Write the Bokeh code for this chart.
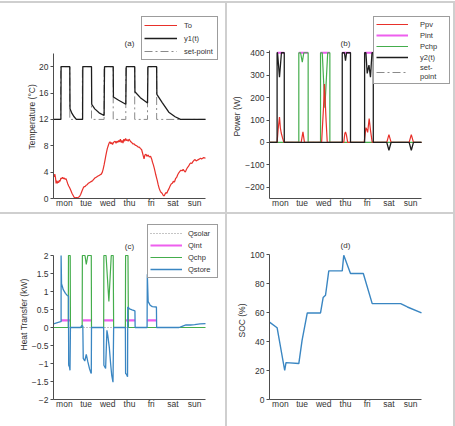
import numpy as np
from bokeh.plotting import figure
from bokeh.models import (FixedTicker, CustomJSTickFormatter, Legend, LegendItem, Div,
                          Label, Title)
from bokeh.layouts import row, column
from bokeh.embed import file_html
from bokeh.resources import INLINE

NAN = float("nan")
DAYS = ["mon", "tue", "wed", "thu", "fri", "sat", "sun"]

# ---- (a) temperatures ------------------------------------------------------
to_day = [0.00, 0.03, 0.06, 0.09, 0.12, 0.15, 0.18, 0.21, 0.24, 0.27, 0.30, 0.34, 0.38,
          0.42, 0.46, 0.50, 0.54, 0.58, 0.62, 0.66, 0.70, 0.75, 0.80, 0.85, 0.90, 0.95,
          1.00, 1.05, 1.10, 1.15, 1.20, 1.25, 1.29, 1.33, 1.37, 1.41, 1.45, 1.50, 1.55,
          1.60, 1.65, 1.70, 1.75, 1.80, 1.85, 1.90, 1.95, 2.00, 2.05, 2.10, 2.15, 2.20,
          2.25, 2.29, 2.33, 2.37, 2.41, 2.44, 2.48, 2.52, 2.56, 2.60, 2.64, 2.68, 2.72,
          2.76, 2.80, 2.84, 2.88, 2.92, 2.96, 3.00, 3.04, 3.08, 3.12, 3.16, 3.20, 3.24,
          3.28, 3.32, 3.36, 3.40, 3.44, 3.48, 3.52, 3.56, 3.60, 3.65, 3.70, 3.76, 3.83,
          3.90, 3.95, 4.00, 4.06, 4.10, 4.14, 4.17, 4.21, 4.26, 4.30, 4.36, 4.41, 4.47,
          4.52, 4.56, 4.60, 4.64, 4.67, 4.71, 4.75, 4.78, 4.82, 4.87, 4.92, 4.96, 5.00,
          5.05, 5.10, 5.14, 5.18, 5.22, 5.27, 5.32, 5.37, 5.42, 5.47, 5.52, 5.57, 5.62,
          5.67, 5.72, 5.77, 5.82, 5.87, 5.92, 5.97, 6.02, 6.07, 6.12, 6.17, 6.22, 6.27,
          6.32, 6.37, 6.42, 6.47, 6.52, 6.57, 6.62, 6.67, 6.72, 6.77, 6.82, 6.87, 6.92,
          7.00]
to_val = [3.5, 3.3, 3.7, 3.2, 2.3, 2.7, 2.3, 2.6, 2.4, 2.8, 2.6, 3.1, 3.0,
          3.2, 3.0, 3.1, 2.9, 3.0, 2.6, 2.2, 1.9, 1.6, 1.2, 0.8, 0.5, 0.2,
          0.1, 0.15, 0.1, 0.2, 0.3, 0.6, 0.95, 1.3, 1.6, 1.8, 1.8, 2.0, 2.1,
          2.3, 2.4, 2.5, 2.6, 2.7, 2.9, 3.1, 3.2, 3.3, 3.4, 3.5, 3.6, 3.7,
          4.0, 4.5, 5.1, 5.8, 6.5, 7.0, 7.6, 8.0, 8.4, 8.6, 8.3, 8.5, 8.2,
          8.5, 8.6, 8.7, 8.4, 8.7, 8.5, 8.8, 8.6, 9.0, 8.5, 8.8, 8.4, 9.0,
          8.7, 9.1, 8.8, 8.9, 8.7, 9.0, 8.8, 8.6, 8.5, 8.3, 8.3, 8.1, 8.0,
          7.8, 7.8, 7.6, 7.4, 6.9, 6.4, 6.0, 6.6, 6.7, 6.4, 6.6, 6.3, 6.4,
          6.0, 5.5, 5.1, 4.6, 4.2, 3.6, 3.1, 2.7, 2.1, 1.5, 1.1, 0.9, 0.8,
          0.5, 0.4, 0.7, 0.9, 0.8, 1.2, 1.5, 1.9, 2.2, 2.3, 2.6, 2.5, 3.0,
          3.2, 3.6, 3.9, 4.1, 4.3, 4.2, 4.4, 4.2, 4.0, 4.4, 4.7, 4.9, 5.2,
          5.4, 5.3, 5.6, 5.8, 5.9, 5.7, 5.8, 5.9, 6.0, 6.1, 6.0, 6.1, 6.2,
          6.1]

y1_day = [0.00, 0.34, 0.35, 0.75, 0.76, 0.85, 0.95, 1.05, 1.34, 1.35, 1.75, 1.76, 1.90,
          2.10, 2.33, 2.35, 2.75, 2.76, 3.00, 3.33, 3.35, 3.74, 3.75, 4.00, 4.33, 4.35,
          4.75, 4.76, 5.00, 5.31, 5.60, 5.85, 7.00]
y1_val = [12.0, 12.0, 20.0, 20.0, 13.6, 12.9, 12.4, 12.0, 12.0, 20.0, 20.0, 14.3, 13.6,
          13.0, 12.6, 20.0, 20.0, 15.4, 14.9, 14.3, 20.0, 20.0, 16.2, 15.3, 14.5, 20.0,
          20.0, 15.8, 14.6, 13.1, 12.4, 12.0, 12.0]

sp_a_day = [0.00, 0.33, 0.33, 0.75, 0.75, 1.33, 1.33, 1.75, 1.75, 2.33, 2.33, 2.75, 2.75,
            3.33, 3.33, 3.74, 3.74, 4.33, 4.33, 4.75, 4.75, 7.00]
sp_a_val = [12, 12, 20, 20, 12, 12, 20, 20, 12, 12, 20, 20, 12,
            12, 20, 20, 12, 12, 20, 20, 12, 12]

# ---- (b) power ---------------------------------------------------------------
ppv_day = [0.00, 0.35, 0.40, 0.46, 0.50, 0.54, 0.60, 0.66, 1.46, 1.54, 1.61, 2.40, 2.45,
           2.49, 2.53, 2.57, 2.61, 2.66, 3.42, 3.47, 3.50, 3.54, 3.60, 4.36, 4.44, 4.48,
           4.52, 4.59, 4.65, 4.73, 5.40, 5.50, 5.60, 6.43, 6.53, 6.63, 7.00]
ppv_w = [0, 0, 60, 113, 65, 42, 20, 0, 0, 47, 0, 0, 90,
         160, 260, 175, 90, 0, 0, 40, 47, 35, 0, 0, 66, 58,
         45, 107, 55, 0, 0, 35, 0, 0, 35, 0, 0]

# internal gains: on-periods only (NaN splits the runs)
pint_day = [0.35, 0.68, NAN, 1.35, 1.78, NAN, 2.35, 2.78, NAN, 3.35, 3.73, NAN, 4.38, 4.78]
pint_w = [400, 400, NAN, 400, 400, NAN, 400, 400, NAN, 400, 400, NAN, 400, 400]

pchp_day = [0.00, 1.35, 1.35, 1.43, 1.51, 1.58, 1.78, 1.78, 2.35, 2.35, 2.43, 2.55, 2.68,
            2.78, 2.78, 7.00]
pchp_w = [0, 0, 400, 400, 358, 400, 400, 0, 0, 400, 400, 155, 400,
          400, 0, 0]

y2_day = [0.00, 0.35, 0.35, 0.37, 0.46, 0.55, 0.68, 0.68, 3.35, 3.35, 3.45, 3.50, 3.55,
          3.73, 3.73, 4.38, 4.38, 4.44, 4.50, 4.58, 4.65, 4.72, 4.78, 4.78, 5.40, 5.50,
          5.60, 6.43, 6.53, 6.63, 7.00]
y2_w = [0, 0, 400, 400, 291, 400, 400, 0, 0, 400, 400, 365, 400,
        400, 0, 0, 400, 400, 308, 345, 291, 400, 400, 0, 0, -35,
        0, 0, -35, 0, 0]

sp_b_day = [0.0, 7.0]
sp_b_w = [0, 0]

# ---- (c) heat transfer -------------------------------------------------------
qsolar_day = [0.0, 7.0]
qsolar_kw = [0.0, 0.0]

qint_day = [0.35, 0.78, NAN, 1.35, 1.75, NAN, 2.32, 2.77, NAN, 3.32, 3.76, NAN, 4.32, 4.75]
qint_kw = [0.2, 0.2, NAN, 0.2, 0.2, NAN, 0.2, 0.2, NAN, 0.2, 0.2, NAN, 0.2, 0.2]

qchp_day = [0.00, 0.68, 0.69, 0.77, 0.78, 1.32, 1.33, 1.45, 1.51, 1.58, 1.74, 1.75, 2.31,
            2.32, 2.42, 2.55, 2.66, 2.75, 2.77, 3.31, 3.32, 3.43, 3.45, 7.00]
qchp_kw = [0, 0, 2, 2, 0, 0, 2, 2, 1.75, 2, 2, 0, 0,
           2, 2, 0.72, 2, 2, 0, 0, 2, 2, 0, 0]

qstore_day = [0.00, 0.33, 0.35, 0.35, 0.37, 0.45, 0.55, 0.63, 0.69, 0.70, 0.74, 0.76, 0.78,
              1.25, 1.30, 1.35, 1.37, 1.44, 1.51, 1.58, 1.66, 1.71, 1.74, 1.75,
              2.31, 2.32, 2.40, 2.46, 2.50, 2.57, 2.63, 2.68, 2.74, 2.77,
              3.31, 3.32, 3.36, 3.41, 3.42, 3.50, 3.62, 3.75, 3.76,
              4.31, 4.32, 4.36, 4.45, 4.55, 4.74, 4.75,
              5.78, 5.95, 6.10, 6.30, 6.50, 6.75, 7.00]
qstore_kw = [0.10, 0.16, 0.17, 2.00, 1.22, 1.05, 0.95, 0.89, 0.87, -1.05, -1.10, -1.19, 0.0,
             0.0, 0.05, 0.04, -0.86, -0.93, -0.75, -0.95, -1.15, -1.24, -1.28, 0.0,
             0.0, -1.05, -1.14, -0.08, -0.22, -0.55, -1.00, -1.32, -1.52, 0.0,
             0.0, -1.28, -1.30, -1.37, 0.57, 0.52, 0.49, 0.46, 0.0,
             0.0, 1.48, 0.72, 0.62, 0.58, 0.57, 0.0,
             0.0, 0.04, 0.07, 0.07, 0.08, 0.10, 0.11]

# ---- (d) state of charge -------------------------------------------------------
soc_day = [0.00, 0.35, 0.70, 0.76, 1.35, 1.50, 1.74, 2.35, 2.47, 2.58, 2.73, 3.35, 3.42,
           3.73, 4.32, 4.73, 6.04, 6.35, 7.00]
soc_pct = [53.4, 49.5, 20.0, 25.4, 24.8, 40.8, 59.7, 59.7, 70.3, 71.9, 88.7, 88.7, 99.5,
           86.9, 86.9, 66.1, 66.1, 63.8, 59.7]

FONT = "Liberation Sans"
TEXT = "#333333"
AXIS = "#4d4d4d"
RED = "#e8302a"
BLACK = "#1e1e1e"
GREY = "#8a8a8a"
GREEN = "#44ad4c"
PINK = "#ee5fee"
BLUE = "#3a86c2"
RULE = "#cfcfcf"

MINUS_FMT = """
const s = String(Math.abs(tick));
return tick < 0 ? "\\u2212" + s : s;
"""


class Panel:
    """A figure whose plotting frame is larger than its axes, so that the
    legend and the panel tag can sit above/right of the axes unclipped.

    fig:   (left, top, width, height) of the figure on the page
    axes:  (left, right, top, bottom) page pixels of the axis extents
    frame: (left, right, top, bottom) page pixels of the plotting frame
    Figures sharing a row must share their top and bottom borders.
    """

    def __init__(self, fig, axes, frame, x_span, y_span, y_ticks, y_label,
                 label_lift, label_gap):
        fx, fy, fw, fh = fig
        ax0, ax1, ay_top, ay_bot = axes
        gx0, gx1, gy_top, gy_bot = frame
        self.kx = (x_span[1] - x_span[0]) / (ax1 - ax0)
        self.ky = (y_span[1] - y_span[0]) / (ay_bot - ay_top)
        self.ax0, self.ay_bot = ax0, ay_bot
        self.x0, self.y0 = x_span[0], y_span[0]
        x_range = (self.xv(gx0), self.xv(gx1))
        y_range = (self.yv(gy_bot), self.yv(gy_top))

        p = figure(width=fw, height=fh, x_range=x_range, y_range=y_range,
                   output_backend="svg", toolbar_location=None, title=None,
                   min_border_left=gx0 - fx, min_border_right=fx + fw - gx1,
                   min_border_top=gy_top - fy, min_border_bottom=fy + fh - gy_bot)
        p.grid.visible = False
        p.outline_line_color = None

        xa = p.xaxis[0]
        xa.bounds = tuple(x_span)
        xa.ticker = FixedTicker(ticks=[i + 0.5 for i in range(len(DAYS))], minor_ticks=[])
        xa.formatter = CustomJSTickFormatter(args=dict(names=DAYS),
                                             code="return names[Math.floor(tick)];")
        xa.major_tick_out = 0
        xa.major_tick_in = 0
        xa.minor_tick_out = 0
        xa.minor_tick_in = 0
        xa.major_label_standoff = -1

        ya = p.yaxis[0]
        ya.bounds = tuple(y_span)
        ya.ticker = FixedTicker(ticks=y_ticks, minor_ticks=[])
        ya.formatter = CustomJSTickFormatter(code=MINUS_FMT)
        ya.major_tick_out = 3
        ya.major_tick_in = 0
        ya.minor_tick_out = 0
        ya.minor_tick_in = 0
        ya.major_label_standoff = 2

        for ax in (xa, ya):
            ax.axis_line_color = AXIS
            ax.major_tick_line_color = AXIS
            ax.minor_tick_line_color = AXIS
            ax.major_label_text_font = FONT
            ax.major_label_text_font_size = "8.5px"
            ax.major_label_text_color = TEXT

        # y-axis caption, its lower end lifted above the bottom of the frame
        p.add_layout(Title(text=y_label, align="left", offset=label_lift,
                           standoff=label_gap, text_font=FONT, text_font_size="8.5px",
                           text_font_style="normal", text_color=TEXT), "left")
        self.p = p

    def xv(self, px):
        return self.x0 + (px - self.ax0) * self.kx

    def yv(self, py):
        return self.y0 + (self.ay_bot - py) * self.ky

    def tag(self, text, px, py):
        self.p.add_layout(Label(x=self.xv(px), y=self.yv(py), text=text,
                                text_align="center", text_baseline="middle",
                                text_font=FONT, text_font_size="8px",
                                text_color=TEXT))

    def legend(self, items, inset, glyph_w, standoff, label_w, row_h, gap, pad):
        lg = Legend(items=items, location="top_right", margin=inset,
                    orientation="vertical",
                    glyph_width=glyph_w, glyph_height=row_h, label_height=row_h,
                    label_width=label_w, label_standoff=standoff, spacing=gap,
                    padding=pad,
                    border_line_color="#3a3a3a", border_line_width=1,
                    background_fill_color="white", background_fill_alpha=1.0,
                    label_text_font=FONT, label_text_font_size="7.5px",
                    label_text_line_height=1.0, label_text_color=TEXT)
        self.p.add_layout(lg, "center")


# (a)
A = Panel((0, 3, 225, 209), (53, 205, 53, 198), (53, 221, 13, 198),
          (0, 7), (0, 22), [0, 4, 8, 12, 16, 20], "Temperature (\u00b0C)", 49, 0)
pa = A.p
r_sp_a = pa.line(sp_a_day, sp_a_val, line_color=GREY, line_width=1, line_dash="8 3 2 3")
r_y1 = pa.line(y1_day, y1_val, line_color=BLACK, line_width=1.3)
r_to = pa.line(to_day, to_val, line_color=RED, line_width=1.2)
A.tag("(a)", 129, 43)
A.legend([LegendItem(label="To", renderers=[r_to]),
          LegendItem(label="y1(t)", renderers=[r_y1]),
          LegendItem(label="set-point", renderers=[r_sp_a])],
         3, 33, 7, 31, 12, 1, 2)

# (b)
B = Panel((227, 3, 226, 209), (269, 421, 50, 198), (269, 453, 13, 198),
          (0, 7), (-250, 410), [-200, -100, 0, 100, 200, 300, 400], "Power (W)", 62, 1)
pb = B.p
r_sp_b = pb.line(sp_b_day, sp_b_w, line_color=GREY, line_width=1, line_dash="8 3 2 3")
r_pint = pb.line(np.array(pint_day), np.array(pint_w), line_color=PINK, line_width=2)
r_pchp = pb.line(pchp_day, pchp_w, line_color=GREEN, line_width=1.2)
r_ppv = pb.line(ppv_day, ppv_w, line_color=RED, line_width=1.2)
r_y2 = pb.line(y2_day, y2_w, line_color=BLACK, line_width=1.3)
B.tag("(b)", 345, 43)
B.legend([LegendItem(label="Ppv", renderers=[r_ppv]),
          LegendItem(label="Pint", renderers=[r_pint]),
          LegendItem(label="Pchp", renderers=[r_pchp]),
          LegendItem(label="y2(t)", renderers=[r_y2]),
          LegendItem(label="set-\npoint", renderers=[r_sp_b])],
         3, 32, 12, 27, 10, 1, 2)

# (c)
C = Panel((0, 214, 225, 212), (53, 205, 255, 399), (53, 219, 223, 399),
          (0, 7), (-2, 2), [-2, -1.5, -1, -0.5, 0, 0.5, 1, 1.5, 2],
          "Heat Transfer (kW)", 49, 0)
pc = C.p
r_qsolar = pc.line(qsolar_day, qsolar_kw, line_color=GREY, line_width=1, line_dash="1 2")
r_qint = pc.line(np.array(qint_day), np.array(qint_kw), line_color=PINK, line_width=2.2)
r_qchp = pc.line(qchp_day, qchp_kw, line_color=GREEN, line_width=1.2)
r_qstore = pc.line(qstore_day, qstore_kw, line_color=BLUE, line_width=1.3)
C.tag("(c)", 129, 246)
C.legend([LegendItem(label="Qsolar", renderers=[r_qsolar]),
          LegendItem(label="Qint", renderers=[r_qint]),
          LegendItem(label="Qchp", renderers=[r_qchp]),
          LegendItem(label="Qstore", renderers=[r_qstore])],
         1, 32, 6, 27, 12, 0, 2)

# (d)
D = Panel((227, 214, 226, 212), (269, 421, 254, 399), (269, 440, 223, 399),
          (0, 7), (0, 100), [0, 20, 40, 60, 80, 100], "SOC (%)", 62, 2)
pd = D.p
pd.line(soc_day, soc_pct, line_color=BLUE, line_width=1.4)
D.tag("(d)", 345, 245)


def rule(w, h):
    return Div(text="", width=w, height=h, margin=0,
               styles={"background-color": RULE})


def gap(w, h):
    return Div(text="", width=w, height=h, margin=0)


page = column(
    gap(455, 1),
    rule(455, 2),
    row(pa, rule(2, 209), pb, rule(2, 209), spacing=0),
    rule(455, 2),
    row(pc, rule(2, 212), pd, rule(2, 212), spacing=0),
    spacing=0,
)

open("out.html", "w").write(file_html(page, INLINE))
